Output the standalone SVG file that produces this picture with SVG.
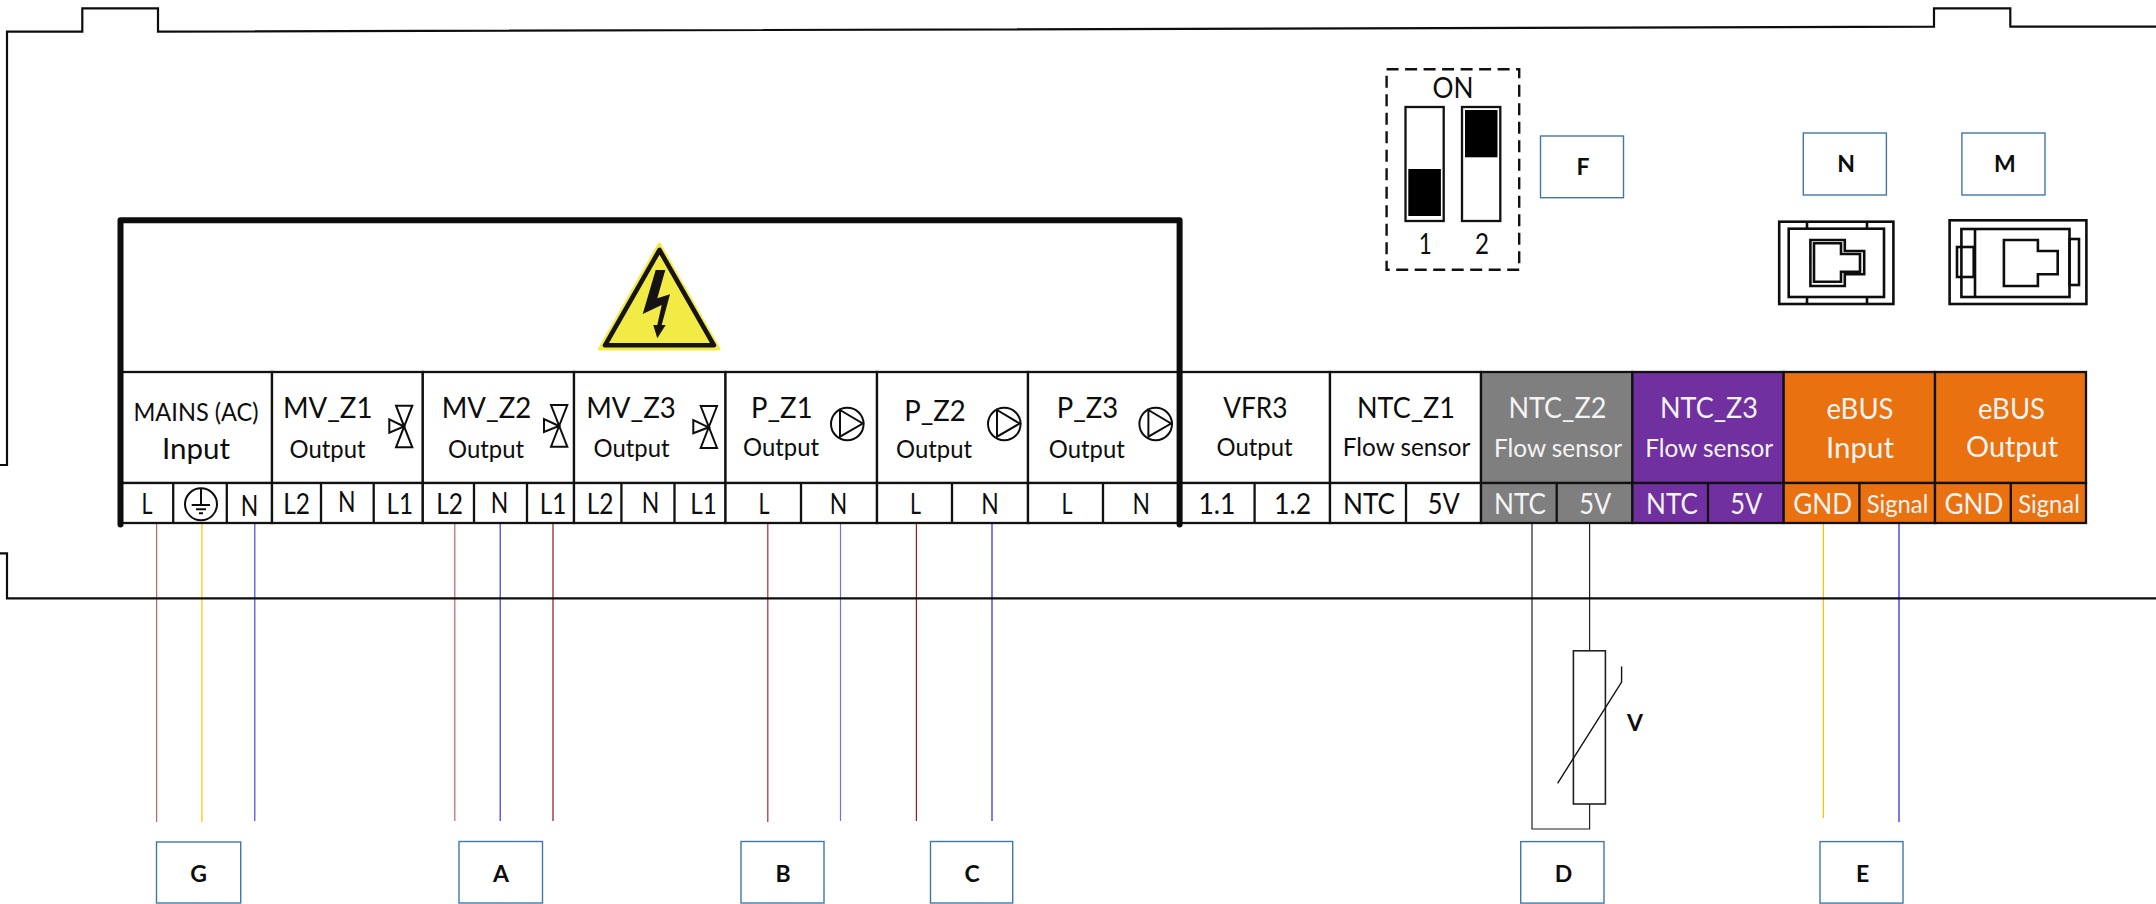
<svg xmlns="http://www.w3.org/2000/svg" width="2156" height="904" viewBox="0 0 2156 904">
<style>
text{font-family:"Lato","Open Sans","Liberation Sans",sans-serif;text-anchor:middle;fill:#0d0d0d}
.t{font-size:28px}
.s{font-size:24.5px}
.p{font-size:28px}
.w{fill:#f4f4f4}
.lb{font-size:23px;font-weight:700}
.c{fill:#fff;stroke:#111;stroke-width:2.3}
.gr{fill:#7f7f7f}
.pu{fill:#7030a0}
.or{fill:#e9710f}
.d{fill:none;stroke:#111;stroke-width:2.3}
.ic{fill:none;stroke:#0d0d0d;stroke-width:2}
.box{fill:#fff;stroke:#3f78a8;stroke-width:1.4}
.j{fill:none;stroke:#0d0d0d;stroke-width:2.6}
.wire{fill:none;stroke-width:1.2}
</style>
<g id="connectors">
<path class="wire" stroke="#b8656b" d="M156.6 524V822"/>
<path class="wire" stroke="#ffc000" d="M201.9 524V822"/>
<path class="wire" stroke="#4848e0" d="M254.8 524V821"/>
<path class="wire" stroke="#b8656b" d="M454.8 524V821"/>
<path class="wire" stroke="#3535e0" d="M500.2 524V821"/>
<path class="wire" stroke="#901515" d="M553 524V821"/>
<path class="wire" stroke="#a52a2a" d="M767.8 524V822"/>
<path class="wire" stroke="#7070f0" d="M840.5 524V821"/>
<path class="wire" stroke="#a01818" d="M916.4 524V821"/>
<path class="wire" stroke="#2525e8" d="M992 524V821"/>
<path class="wire" stroke="#ffc000" d="M1823.4 524V818"/>
<path class="wire" stroke="#2020e0" d="M1899 524V822"/>
<path class="wire" stroke="#222" d="M1532 524V829H1589.6V804M1589.6 524V650.8"/>
</g>
<g id="housing" fill="none" stroke="#0d0d0d" stroke-width="2.2">
<path d="M0 465H7V31.7H82.3V8.3H158V31.7L1934 26.7V8.3H2010.3V26.7H2156"/>
<path d="M0 553.3H7V598.3H2156"/>
</g>
<g id="mains">
<rect class="c" x="121" y="372" width="151" height="111"/><rect class="c" x="121" y="483" width="151" height="40"/>
<path class="d" d="M173.2 483V523M226.8 483V523"/>
<text class="s" x="196" y="421" textLength="125" lengthAdjust="spacingAndGlyphs">MAINS (AC)</text>
<text class="t" x="196" y="458.7" textLength="68" lengthAdjust="spacingAndGlyphs">Input</text>
<text class="p" x="147" y="514" textLength="11" lengthAdjust="spacingAndGlyphs">L</text>
<circle class="ic" cx="201" cy="504.3" r="16"/>
<path class="ic" d="M201 488.5V505M191.7 505H210M196 509.3H206M199 513.3H203"/>
<text class="p" x="249.4" y="516" textLength="17.5" lengthAdjust="spacingAndGlyphs">N</text>
</g>
<g id="mv-z1">
<rect class="c" x="272" y="372" width="150.8" height="111"/><rect class="c" x="272" y="483" width="150.8" height="40"/>
<path class="d" d="M321 483V523M373.7 483V523"/>
<text class="t" x="327.7" y="418.3" textLength="89.5" lengthAdjust="spacingAndGlyphs">MV_Z1</text>
<text class="s" x="327.6" y="458.3" textLength="76" lengthAdjust="spacingAndGlyphs">Output</text>
<path class="ic" d="M396 405.7H412.3L396 447.3H412.3ZM404 426.5L389.3 419.3V432.7Z"/>
<text class="p" x="296.5" y="514.3" textLength="26.7" lengthAdjust="spacingAndGlyphs">L2</text>
<text class="p" x="346.7" y="512.3" textLength="17.5" lengthAdjust="spacingAndGlyphs">N</text>
<text class="p" x="399.7" y="514.3" textLength="26.5" lengthAdjust="spacingAndGlyphs">L1</text>
</g>
<g id="mv-z2">
<rect class="c" x="422.8" y="372" width="151.2" height="111"/><rect class="c" x="422.8" y="483" width="151.2" height="40"/>
<path class="d" d="M474 483V523M527 483V523"/>
<text class="t" x="486.5" y="418.3" textLength="89.5" lengthAdjust="spacingAndGlyphs">MV_Z2</text>
<text class="s" x="486" y="458.3" textLength="76" lengthAdjust="spacingAndGlyphs">Output</text>
<path class="ic" d="M551 405H567.3L551 446.7H567.3ZM559 426L544 419V432Z"/>
<text class="p" x="449.5" y="514.3" textLength="26.7" lengthAdjust="spacingAndGlyphs">L2</text>
<text class="p" x="499.6" y="513" textLength="17.5" lengthAdjust="spacingAndGlyphs">N</text>
<text class="p" x="553" y="514.3" textLength="26.5" lengthAdjust="spacingAndGlyphs">L1</text>
</g>
<g id="mv-z3">
<rect class="c" x="574" y="372" width="151.5" height="111"/><rect class="c" x="574" y="483" width="151.5" height="40"/>
<path class="d" d="M621.4 483V523M674.5 483V523"/>
<text class="t" x="631" y="418.3" textLength="89.5" lengthAdjust="spacingAndGlyphs">MV_Z3</text>
<text class="s" x="631.5" y="457" textLength="76" lengthAdjust="spacingAndGlyphs">Output</text>
<path class="ic" d="M700.7 406H717L700.7 448H717ZM708.7 427.3L693.3 420V433.3Z"/>
<text class="p" x="600" y="514.3" textLength="26.7" lengthAdjust="spacingAndGlyphs">L2</text>
<text class="p" x="650.5" y="513" textLength="17.5" lengthAdjust="spacingAndGlyphs">N</text>
<text class="p" x="703.6" y="514.3" textLength="26.5" lengthAdjust="spacingAndGlyphs">L1</text>
</g>
<g id="p-z1">
<rect class="c" x="725.5" y="372" width="151.5" height="111"/><rect class="c" x="725.5" y="483" width="151.5" height="40"/>
<path class="d" d="M801 483V523"/>
<text class="t" x="781.8" y="418.3" textLength="61.5" lengthAdjust="spacingAndGlyphs">P_Z1</text>
<text class="s" x="781" y="456" textLength="76" lengthAdjust="spacingAndGlyphs">Output</text>
<circle class="ic" cx="847.3" cy="424" r="16.3"/><path class="ic" d="M840 410L862.7 423.5L840 436.7Z"/>
<text class="p" x="764" y="514.3" textLength="11" lengthAdjust="spacingAndGlyphs">L</text><text class="p" x="838.6" y="514" textLength="17.5" lengthAdjust="spacingAndGlyphs">N</text>
</g>
<g id="p-z2">
<rect class="c" x="877" y="372" width="151" height="111"/><rect class="c" x="877" y="483" width="151" height="40"/>
<path class="d" d="M952 483V523"/>
<text class="t" x="935" y="420.7" textLength="61.5" lengthAdjust="spacingAndGlyphs">P_Z2</text>
<text class="s" x="934" y="458.3" textLength="76" lengthAdjust="spacingAndGlyphs">Output</text>
<circle class="ic" cx="1004.3" cy="424" r="16.3"/><path class="ic" d="M997 410L1019.7 423.5L997 436.7Z"/>
<text class="p" x="915.5" y="514.3" textLength="11" lengthAdjust="spacingAndGlyphs">L</text><text class="p" x="990" y="514" textLength="17.5" lengthAdjust="spacingAndGlyphs">N</text>
</g>
<g id="p-z3">
<rect class="c" x="1028" y="372" width="151.6" height="111"/><rect class="c" x="1028" y="483" width="151.6" height="40"/>
<path class="d" d="M1103 483V523"/>
<text class="t" x="1087.5" y="418.3" textLength="61.5" lengthAdjust="spacingAndGlyphs">P_Z3</text>
<text class="s" x="1086.8" y="458" textLength="76" lengthAdjust="spacingAndGlyphs">Output</text>
<circle class="ic" cx="1155.7" cy="424" r="16.3"/><path class="ic" d="M1148.4 410L1171 423.5L1148.4 436.7Z"/>
<text class="p" x="1067" y="514.3" textLength="11" lengthAdjust="spacingAndGlyphs">L</text><text class="p" x="1141.3" y="514" textLength="17.5" lengthAdjust="spacingAndGlyphs">N</text>
</g>
<g id="vfr3">
<rect class="c" x="1179.6" y="372" width="150.4" height="111"/><rect class="c" x="1179.6" y="483" width="150.4" height="40"/>
<path class="d" d="M1254.6 483V523"/>
<text class="t" x="1255.4" y="418.3" textLength="64.5" lengthAdjust="spacingAndGlyphs">VFR3</text>
<text class="s" x="1254.6" y="456" textLength="76" lengthAdjust="spacingAndGlyphs">Output</text>
<text class="p" x="1217" y="514" textLength="37" lengthAdjust="spacingAndGlyphs">1.1</text>
<text class="p" x="1292.6" y="514" textLength="37" lengthAdjust="spacingAndGlyphs">1.2</text>
</g>
<g id="ntc-z1">
<rect class="c" x="1330" y="372" width="151" height="111"/><rect class="c" x="1330" y="483" width="151" height="40"/>
<path class="d" d="M1406 483V523"/>
<text class="t" x="1406" y="418.3" textLength="98" lengthAdjust="spacingAndGlyphs">NTC_Z1</text>
<text class="s" x="1406.6" y="456" textLength="127.5" lengthAdjust="spacingAndGlyphs">Flow sensor</text>
<text class="p" x="1369" y="514" textLength="52" lengthAdjust="spacingAndGlyphs">NTC</text>
<text class="p" x="1443.7" y="514" textLength="32" lengthAdjust="spacingAndGlyphs">5V</text>
</g>
<g id="ntc-z2">
<rect class="c gr" x="1481" y="372" width="151.4" height="111"/><rect class="c gr" x="1481" y="483" width="151.4" height="40"/>
<path class="d" d="M1556.7 483V523"/>
<text class="t w" x="1557.4" y="418" textLength="98" lengthAdjust="spacingAndGlyphs">NTC_Z2</text>
<text class="s w" x="1558" y="457" textLength="128" lengthAdjust="spacingAndGlyphs">Flow sensor</text>
<text class="p w" x="1520" y="513.7" textLength="52" lengthAdjust="spacingAndGlyphs">NTC</text>
<text class="p w" x="1595.3" y="513.7" textLength="32" lengthAdjust="spacingAndGlyphs">5V</text>
</g>
<g id="ntc-z3">
<rect class="c pu" x="1632.4" y="372" width="151.3" height="111"/><rect class="c pu" x="1632.4" y="483" width="151.3" height="40"/>
<path class="d" d="M1708 483V523"/>
<text class="t w" x="1709" y="418" textLength="98" lengthAdjust="spacingAndGlyphs">NTC_Z3</text>
<text class="s w" x="1709.2" y="457" textLength="128" lengthAdjust="spacingAndGlyphs">Flow sensor</text>
<text class="p w" x="1672" y="513.7" textLength="52" lengthAdjust="spacingAndGlyphs">NTC</text>
<text class="p w" x="1746.3" y="513.7" textLength="32" lengthAdjust="spacingAndGlyphs">5V</text>
</g>
<g id="ebus-input">
<rect class="c or" x="1783.7" y="372" width="151.3" height="111"/><rect class="c or" x="1783.7" y="483" width="151.3" height="40"/>
<path class="d" d="M1859.4 483V523"/>
<text class="t w" x="1860" y="419" textLength="67" lengthAdjust="spacingAndGlyphs">eBUS</text>
<text class="t w" x="1860" y="457.8" textLength="68" lengthAdjust="spacingAndGlyphs">Input</text>
<text class="p w" x="1822.7" y="514.4" textLength="59" lengthAdjust="spacingAndGlyphs">GND</text>
<text class="s w" x="1897.5" y="512.7" textLength="61.5" lengthAdjust="spacingAndGlyphs">Signal</text>
</g>
<g id="ebus-output">
<rect class="c or" x="1935" y="372" width="151" height="111"/><rect class="c or" x="1935" y="483" width="151" height="40"/>
<path class="d" d="M2010.8 483V523"/>
<text class="t w" x="2011.5" y="419" textLength="67" lengthAdjust="spacingAndGlyphs">eBUS</text>
<text class="t w" x="2012" y="457" textLength="92" lengthAdjust="spacingAndGlyphs">Output</text>
<text class="p w" x="1974" y="514.4" textLength="59" lengthAdjust="spacingAndGlyphs">GND</text>
<text class="s w" x="2049" y="512.7" textLength="61.5" lengthAdjust="spacingAndGlyphs">Signal</text>
</g>
<g id="hv-frame">
<path fill="none" stroke="#0d0d0d" stroke-width="6" stroke-linecap="round" stroke-linejoin="round" d="M120.5 524.5V220.2H1179.6V524.5"/>
</g>
<g id="warning">
<path fill="#f2ea45" stroke="#f2ea45" stroke-width="3" stroke-linejoin="round" d="M659.3 244L599.5 349H719Z"/>
<path fill="#f2ea45" stroke="#151313" stroke-width="4.6" stroke-linejoin="round" d="M659.5 250L605 345.3H714Z"/>
<path fill="#151313" d="M655.7 270H665.3L657.3 298.3L670 294.3L661.7 325H665.7L657.3 338.3L653.3 325H657.3L661.7 305L642.7 314Z"/>
</g>
<g id="dip-switch">
<rect x="1386.6" y="69.3" width="132.6" height="200.4" fill="none" stroke="#111" stroke-width="2.4" stroke-dasharray="12 6.5"/>
<text class="t" x="1453" y="97.7" textLength="41" lengthAdjust="spacingAndGlyphs">ON</text>
<rect x="1405.5" y="107" width="38.2" height="114" fill="#fff" stroke="#111" stroke-width="2.3"/>
<rect x="1408.3" y="169" width="32.6" height="47" fill="#000"/>
<rect x="1462" y="107" width="38.3" height="114" fill="#fff" stroke="#111" stroke-width="2.3"/>
<rect x="1465" y="110" width="32.5" height="47.3" fill="#000"/>
<text class="p" x="1425.3" y="254" textLength="13" lengthAdjust="spacingAndGlyphs">1</text>
<text class="p" x="1482" y="254" textLength="14" lengthAdjust="spacingAndGlyphs">2</text>
</g>
<g id="port-n">
<rect class="j" x="1779.2" y="221.7" width="114.2" height="82.3"/>
<rect class="j" x="1788.7" y="228.7" width="95.3" height="68.3"/>
<path class="j" stroke-width="1.6" d="M1807 221.7V228.7M1867 221.7V228.7M1807 297V304M1867 297V304"/>
<path class="j" d="M1810.4 240H1844.8V251H1864.2V274.3H1844.8V286H1810.4Z"/>
<path class="j" stroke-width="2" d="M1814 243.3H1841V254H1860V271.7H1841V281.7H1814Z"/>
</g>
<g id="port-m">
<rect class="j" stroke-width="1.6" x="1949.6" y="220.3" width="136.8" height="83.7"/>
<rect class="j" x="1961.4" y="229" width="108.1" height="68"/>
<path class="j" d="M1975 229V297"/>
<rect class="j" stroke-width="2" x="1957" y="247" width="16.7" height="30"/>
<rect class="j" stroke-width="2" x="2069.5" y="239" width="9.5" height="46"/>
<path class="j" d="M2003.9 240H2037.9V251H2057.7V274.3H2037.9V286H2003.9Z"/>
</g>
<g id="thermistor">
<rect x="1573.4" y="650.8" width="32" height="153.2" fill="#fff" stroke="#222" stroke-width="1.6"/>
<path fill="none" stroke="#111" stroke-width="1.4" d="M1557.6 783.3L1621.6 682V666.4"/>
<text class="lb" x="1635" y="731">V</text>
</g>
<g id="label-g"><rect class="box" x="156.5" y="842" width="84.2" height="61"/><text class="lb" x="198.6" y="881.7">G</text></g>
<g id="label-a"><rect class="box" x="459" y="841.5" width="83.5" height="61.5"/><text class="lb" x="501" y="881.7">A</text></g>
<g id="label-b"><rect class="box" x="741" y="841.5" width="83" height="61.5"/><text class="lb" x="783" y="881.7">B</text></g>
<g id="label-c"><rect class="box" x="930.5" y="841.5" width="82.2" height="61.5"/><text class="lb" x="972" y="881.7">C</text></g>
<g id="label-d"><rect class="box" x="1520.7" y="841.6" width="83.3" height="61.5"/><text class="lb" x="1563.5" y="881.5">D</text></g>
<g id="label-e"><rect class="box" x="1820" y="841.6" width="83" height="61.5"/><text class="lb" x="1862.6" y="881.5">E</text></g>
<g id="label-f"><rect class="box" x="1540.5" y="136" width="83" height="61.7"/><text class="lb" x="1583" y="175">F</text></g>
<g id="label-n"><rect class="box" x="1803.3" y="133" width="83.1" height="62"/><text class="lb" x="1846" y="172">N</text></g>
<g id="label-m"><rect class="box" x="1961.9" y="133" width="83.1" height="62"/><text class="lb" x="2004.8" y="172">M</text></g>
</svg>
